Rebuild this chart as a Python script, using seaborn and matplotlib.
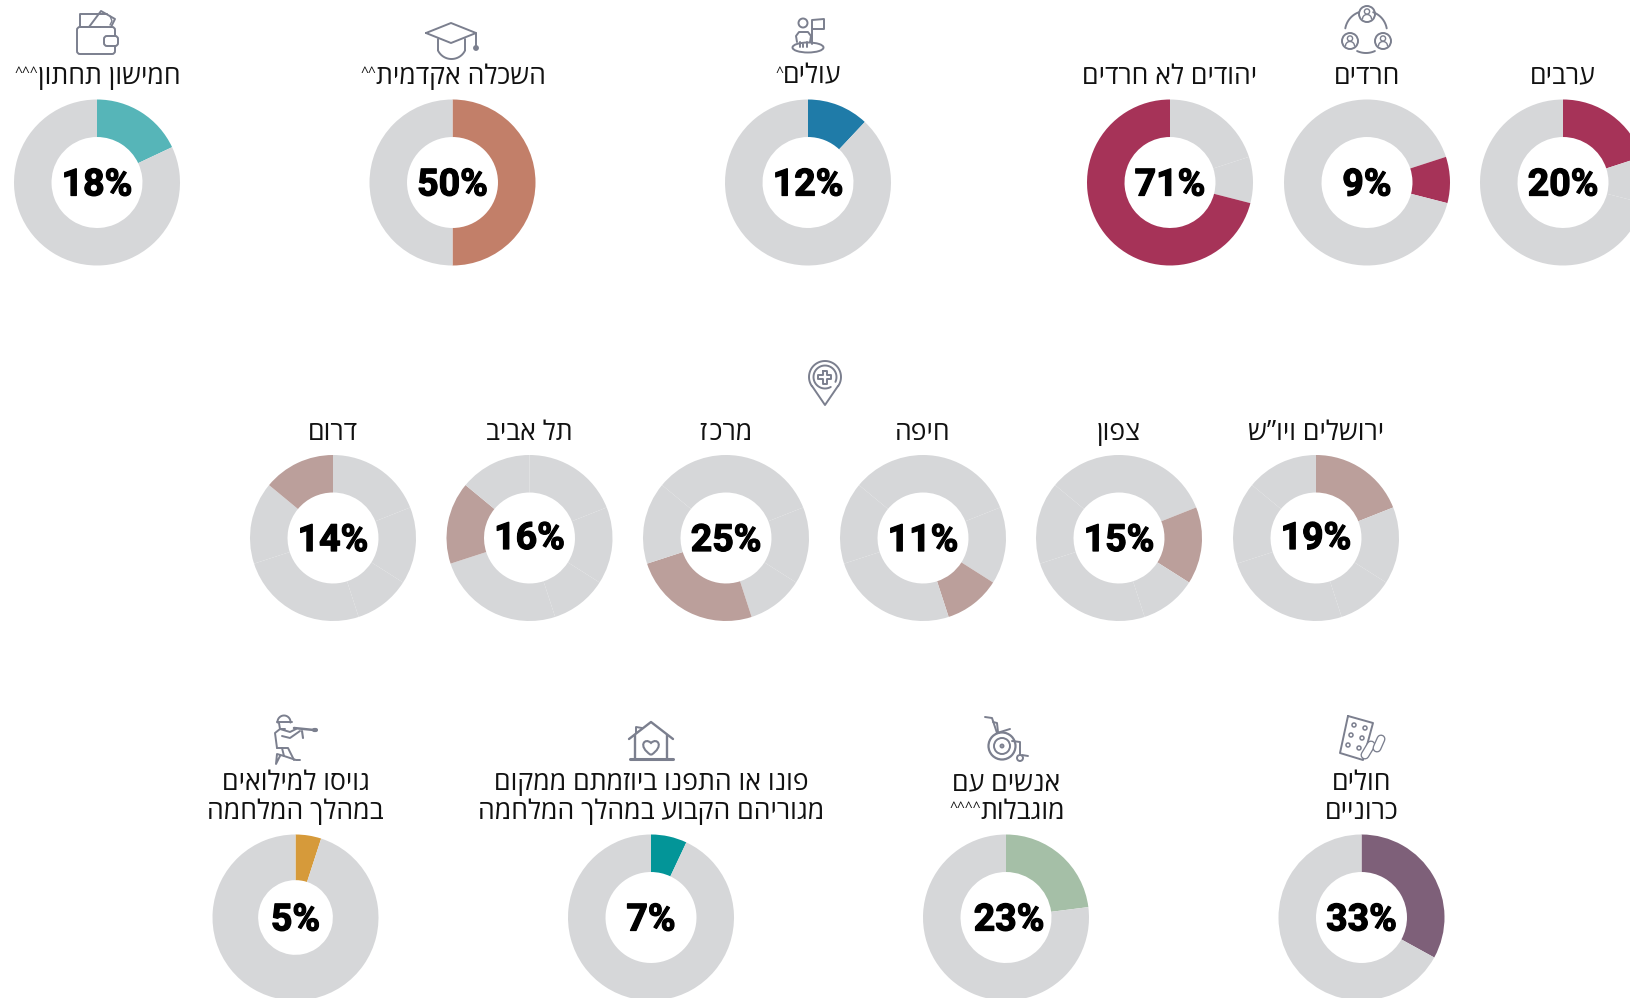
import numpy as np
import matplotlib
matplotlib.use('Agg')
import matplotlib.pyplot as plt
import matplotlib.patheffects as pe
from matplotlib.patches import Circle, Ellipse, FancyBboxPatch, PathPatch
from matplotlib.path import Path
import seaborn as sns

# row 1 - population groups
sector_labels = ['ערבים', 'חרדים', 'יהודים לא חרדים']
sector_values = [20, 9, 71]
group_labels = ['עולים^', 'השכלה אקדמית^^', 'חמישון תחתון^^^']
group_values = [12, 50, 18]

# row 2 - districts
district_labels = ['ירושלים ויו”ש', 'צפון', 'חיפה', 'מרכז', 'תל אביב', 'דרום']
district_values = [19, 15, 11, 25, 16, 14]

# row 3 - two line labels
special_labels = [['חולים', 'כרוניים'], ['אנשים עם', 'מוגבלות^^^^'],
                  ['פונו או התפנו ביוזמתם ממקום', 'מגוריהם הקבוע במהלך המלחמה'],
                  ['גויסו למילואים', 'במהלך המלחמה']]
special_values = [33, 23, 7, 5]

# colours
GREY = '#d6d7d9'
ICON = '#7b7f8e'
sector_color = '#a63358'
district_color = '#bb9f9b'
group_colors = ['#1f7ba8', '#c27f69', '#56b5b8']
special_colors = ['#7e6079', '#a5bfa7', '#039598', '#d69a3a']

# layout in pixels
W, H = 1631, 998
R = 83
HOLE = 0.548
row1_y, row2_y, row3_y = 182.5, 538, 917.5
sector_x = [1563, 1367, 1170]
group_x = [808, 452.5, 97]
district_x = [1316, 1119, 923, 726, 529.5, 333]
special_x = [1361.5, 1006, 651, 295.5]
special_hole = [HOLE, HOLE, HOLE, 0.45]
special_dx = [0, 3, 0, 0]
district_dy = [-2, 0, 0, 0, -2, 0]

sns.set_theme(style='white')
plt.rcParams['font.family'] = ['Open Sans', 'Liberation Sans', 'DejaVu Sans']

fig = plt.figure(figsize=(W / 100, H / 100), dpi=100, facecolor='white')

# overlay for labels and icons, y runs downward like the picture
ov = fig.add_axes([0, 0, 1, 1], zorder=5)
ov.set_xlim(0, W)
ov.set_ylim(H, 0)
ov.axis('off')
ov.patch.set_alpha(0)


def rtl(s):
    # matplotlib has no bidi, so hand it the visual order
    # hair space: these two letters touch in this font and read as a different letter
    return s.replace('כז', 'כ\u200aז')[::-1]


def donut(cx, cy, slices, hi, color, hole=HOLE, dx=0, dy=0):
    ax = fig.add_axes([(cx - R) / W, 1 - (cy + R) / H, 2 * R / W, 2 * R / H])
    cols = [GREY] * len(slices)
    cols[hi] = color
    ax.pie(slices, colors=cols, startangle=90, counterclock=False, radius=1,
           wedgeprops=dict(width=1 - hole, linewidth=0))
    ax.set_xlim(-1, 1)
    ax.set_ylim(-1, 1)
    ov.text(cx + dx, cy + 2.5 + dy, f'{slices[hi]}%', ha='center', va='center',
            family='Roboto', fontweight='bold', fontsize=27, color='black',
            path_effects=[pe.withStroke(linewidth=0.9, foreground='black')])


def label(x, y, s):
    body = s.rstrip('^')
    n = len(s) - len(body)
    t = ov.text(x + n * 4.2, y, rtl(body), ha='center', va='center', fontsize=19.2, color='#111111')
    if n:
        # the carets are small raised marks left of the hebrew
        ov.annotate('^' * n, xy=(0, 0.62), xycoords=t, ha='right', va='center', fontsize=10, color='#111111')


# draw donuts
for i, x in enumerate(sector_x):
    donut(x, row1_y, sector_values, i, sector_color)
    label(x, 76.5, sector_labels[i])
for i, x in enumerate(group_x):
    donut(x, row1_y, [group_values[i], 100 - group_values[i]], 0, group_colors[i])
    label(x, 76.5, group_labels[i])
for i, x in enumerate(district_x):
    donut(x, row2_y, district_values, i, district_color, dy=district_dy[i])
    label(x, 432.5, district_labels[i])
for i, x in enumerate(special_x):
    donut(x, row3_y, [special_values[i], 100 - special_values[i]], 0, special_colors[i],
          hole=special_hole[i], dx=special_dx[i])
    label(x, 783, special_labels[i][0])
    label(x, 812, special_labels[i][1])

# icons
LW = 1.4


def line(pts, lw=LW, closed=False):
    pts = list(pts)
    if closed:
        pts = pts + [pts[0]]
    xs, ys = zip(*pts)
    ov.plot(xs, ys, color=ICON, lw=lw, solid_capstyle='round', solid_joinstyle='round')


def arc(cx, cy, r, a0, a1, lw=LW):
    t = np.radians(np.linspace(a0, a1, 40))
    ov.plot(cx + r * np.cos(t), cy + r * np.sin(t), color=ICON, lw=lw, solid_capstyle='round')


def ring(cx, cy, r, lw=LW):
    ov.add_patch(Circle((cx, cy), r, fill=False, ec=ICON, lw=lw))


def rbox(x, y, w, h, rad=2, lw=LW, fc='none'):
    ov.add_patch(FancyBboxPatch((x + rad, y + rad), w - 2 * rad, h - 2 * rad,
                                boxstyle=f'round,pad={rad},rounding_size={rad}',
                                fc=fc, ec=ICON, lw=lw))


def capsule(p0, p1):
    line([p0, p1], lw=6.5)
    ov.plot(*zip(p0, p1), color='white', lw=4.6, solid_capstyle='round')


# wallet
line([(100, 27), (80, 27), (80, 14), (107, 14)])
line([(89, 27), (101, 11), (115, 19), (111, 27)])
line([(110, 16), (112, 21), (110, 25)], lw=1)
rbox(77, 27, 38, 27, rad=3)
rbox(104, 36, 14, 10, rad=3, fc='white')

# graduation cap
line([(426, 33), (451, 23), (476, 33), (451, 43)], closed=True)
line([(438, 39), (438, 50)])
line([(465, 39), (465, 50)])
arc(451.5, 44, 15, 25, 155)
line([(476, 33), (476, 47)])
ov.add_patch(Circle((476, 48), 2.2, color=ICON))

# immigrant with flag
ring(803, 23, 4.5)
line([(797, 42), (796, 36), (799, 32), (808, 32), (811, 36), (810, 42)])
line([(800, 42), (800, 47)])
line([(807, 42), (807, 47)])
line([(803.5, 44), (803.5, 47)])
ov.add_patch(Ellipse((808, 47.5), 31, 10, fill=False, ec=ICON, lw=LW))
line([(812, 44), (812, 20), (824, 19), (824, 29), (813, 29)])

# three people in a cycle
for px, py in [(1367, 14), (1350, 41), (1383, 41)]:
    ring(px, py, 8)
    ring(px, py - 2.5, 2.6, lw=1)
    arc(px, py + 5, 4.5, 180, 360, lw=1)
arc(1366, 32, 21, 190, 250)
arc(1366, 32, 21, 290, 350)
arc(1366, 32, 21, 65, 115)

# map pin with plus
arc(825, 377, 16, 145, 395)
line([(812, 386), (825, 405), (838, 386)])
arc(825, 377, 11.5, 60, 385)
plus = 6.5
arm = 2.4
line([(825 - arm, 377 - plus), (825 + arm, 377 - plus), (825 + arm, 377 - arm), (825 + plus, 377 - arm),
      (825 + plus, 377 + arm), (825 + arm, 377 + arm), (825 + arm, 377 + plus), (825 - arm, 377 + plus),
      (825 - arm, 377 + arm), (825 - plus, 377 + arm), (825 - plus, 377 - arm), (825 - arm, 377 - arm)],
     closed=True)

# soldier
arc(284, 722, 6.5, 175, 365)
line([(277, 722), (292, 722)])
line([(279, 723), (280, 729), (285, 729)])
line([(277, 748), (275, 733), (280, 729), (290, 732), (296, 729)])
line([(282, 736), (290, 738), (300, 731)])
line([(277, 748), (288, 748), (294, 760)])
line([(294, 728), (314, 730)], lw=1.8)
line([(314, 730), (316, 730)], lw=3)
line([(302, 731), (303, 738)], lw=1.5)
line([(282, 748), (284, 756), (277, 754), (276, 764), (280, 756)])
line([(284, 756), (296, 760), (300, 760)])

# house with heart
line([(629, 739), (651, 722), (673, 739)], lw=1.7)
line([(635, 735), (635, 759)], lw=1.7)
line([(667, 735), (667, 759)], lw=1.7)
line([(630, 759), (673, 759)], lw=2.2)
line([(636, 733), (636, 727), (642, 728)])
hx, hy = 651, 747
ov.add_patch(PathPatch(Path([(hx, hy + 8), (hx - 14, hy - 1), (hx - 6, hy - 10), (hx, hy - 4),
                             (hx + 6, hy - 10), (hx + 14, hy - 1), (hx, hy + 8)],
                            [Path.MOVETO, Path.CURVE4, Path.CURVE4, Path.CURVE4,
                             Path.CURVE4, Path.CURVE4, Path.CURVE4]),
                       fill=False, ec=ICON, lw=1.5))

# wheelchair
ring(1002, 746, 13.5, lw=1.6)
ring(1002, 746, 8)
ring(1002, 746, 1.5)
line([(985, 717), (992, 718), (997, 733), (1010, 729)])
line([(993, 722), (997, 723), (998, 732)])
line([(1012, 741), (1020, 742), (1020, 755)])
ring(1020, 758, 3)
line([(1022, 755), (1028, 756)])

# pill sheet
line([(1348, 716), (1373, 723), (1363, 760), (1340, 753)], closed=True)
for dx, dy in [(1354, 725), (1365, 728), (1351, 735), (1362, 738), (1348, 745), (1359, 748)]:
    ring(dx, dy, 2, lw=1.1)
capsule((1365, 755), (1371, 745))
capsule((1377, 748), (1381, 739))

sns.despine(fig=fig, left=True, bottom=True)
fig.savefig('out.png', dpi=100, facecolor='white')
